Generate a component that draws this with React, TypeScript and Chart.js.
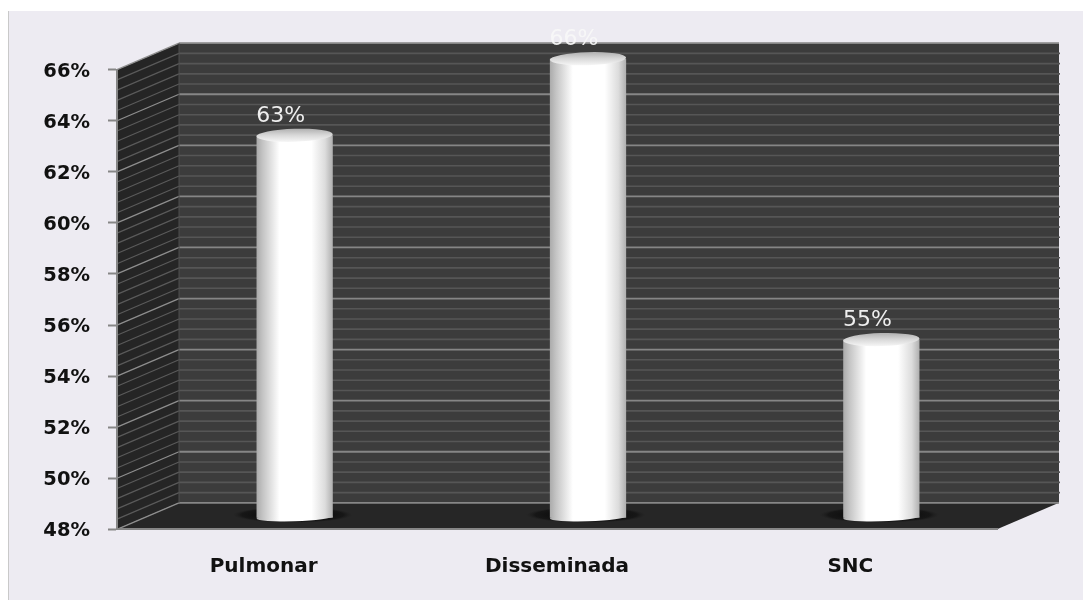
import React, { useEffect, useRef } from "react";
import { Chart, registerables } from "chart.js";

Chart.register(...registerables);

const categories = ["Pulmonar", "Disseminada", "SNC"];
const values = [63, 66, 55];
const axisMin = 48;
const axisMax = 66;
const majorStep = 2;
const minorStep = 0.4;

const WIDTH = 1083;
const HEIGHT = 600;
const depthX = 62;
const depthY = 26.5;
const barShiftX = 31;
const barShiftY = -11;

const gridValues = (): number[] => {
  const count = Math.round((axisMax - axisMin) / minorStep);
  return Array.from({ length: count + 1 }, (_, i) => axisMin + i * minorStep);
};

const isMajor = (v: number) => Math.abs((v - axisMin) / majorStep - Math.round((v - axisMin) / majorStep)) < 1e-6;

// Horizontal shading that makes a flat bar read as a cylinder.
const cylinderShade = (ctx: CanvasRenderingContext2D, x: number, half: number) => {
  const g = ctx.createLinearGradient(x - half, 0, x + half, 0);
  g.addColorStop(0, "#ababab");
  g.addColorStop(0.08, "#c4c4c4");
  g.addColorStop(0.3, "#ffffff");
  g.addColorStop(0.72, "#ffffff");
  g.addColorStop(0.9, "#dcdcdc");
  g.addColorStop(1, "#b0b0b0");
  return g;
};

// Side wall, back wall and floor of the 3D box, ruled from the value scale.
const boxPlugin = {
  id: "box",
  beforeDraw(chart: any) {
    const { ctx, chartArea: a, scales } = chart;
    const y = scales.y;
    const poly = (pts: number[][], fill: string) => {
      ctx.beginPath();
      pts.forEach(([px, py], i) => (i ? ctx.lineTo(px, py) : ctx.moveTo(px, py)));
      ctx.closePath();
      ctx.fillStyle = fill;
      ctx.fill();
    };
    ctx.save();
    poly(
      [
        [a.left + depthX, a.top - depthY],
        [a.right + depthX, a.top - depthY],
        [a.right + depthX, a.bottom - depthY],
        [a.left + depthX, a.bottom - depthY],
      ],
      "#3c3c3c",
    );
    poly(
      [
        [a.left, a.top],
        [a.left + depthX, a.top - depthY],
        [a.left + depthX, a.bottom - depthY],
        [a.left, a.bottom],
      ],
      "#252525",
    );
    poly(
      [
        [a.left, a.bottom],
        [a.left + depthX, a.bottom - depthY],
        [a.right + depthX, a.bottom - depthY],
        [a.right, a.bottom],
      ],
      "#262626",
    );
    for (const v of gridValues()) {
      const py = y.getPixelForValue(v);
      const major = isMajor(v);
      ctx.beginPath();
      ctx.moveTo(a.left, py);
      ctx.lineTo(a.left + depthX, py - depthY);
      ctx.strokeStyle = major ? "#8e8e8e" : "#5a5a5a";
      ctx.lineWidth = major ? 1.3 : 1.2;
      ctx.stroke();
      ctx.beginPath();
      ctx.moveTo(a.left + depthX, py - depthY);
      ctx.lineTo(a.right + depthX + (major ? 0 : 1), py - depthY);
      ctx.strokeStyle = major ? "#868686" : "#565656";
      ctx.lineWidth = major ? 1.8 : 1.6;
      ctx.stroke();
    }
    ctx.beginPath();
    ctx.moveTo(a.left + depthX, a.top - depthY);
    ctx.lineTo(a.left + depthX, a.bottom - depthY);
    ctx.strokeStyle = "#4f4f4f";
    ctx.lineWidth = 1;
    ctx.stroke();
    ctx.restore();
  },
};

// Moves the bars to mid-depth and turns them into cylinders with a shadow, base and cap.
const cylinderPlugin = {
  id: "cylinder",
  beforeDatasetDraw(chart: any) {
    const { ctx } = chart;
    ctx.save();
    ctx.translate(barShiftX, barShiftY);
    for (const bar of chart.getDatasetMeta(0).data) {
      const { x, base, width } = bar.getProps(["x", "base", "width"], true);
      ctx.save();
      ctx.translate(x - 2, base - 3);
      ctx.scale(1, 8 / 60);
      const shade = ctx.createRadialGradient(0, 0, 30, 0, 0, 60);
      shade.addColorStop(0, "rgba(12,12,12,0.95)");
      shade.addColorStop(0.7, "rgba(16,16,16,0.7)");
      shade.addColorStop(1, "rgba(30,30,30,0)");
      ctx.fillStyle = shade;
      ctx.beginPath();
      ctx.arc(0, 0, 60, 0, Math.PI * 2);
      ctx.fill();
      ctx.restore();

      ctx.fillStyle = cylinderShade(ctx, x, width / 2);
      ctx.beginPath();
      ctx.ellipse(x, base - 0.5, width / 2, 4, -0.03, 0, Math.PI * 2);
      ctx.fill();
    }
  },
  afterDatasetDraw(chart: any) {
    const { ctx } = chart;
    for (const bar of chart.getDatasetMeta(0).data) {
      const { x, y, width } = bar.getProps(["x", "y", "width"], true);
      const rim = ctx.createLinearGradient(0, y - 6, 0, y + 7);
      rim.addColorStop(0, "#b4b4b4");
      rim.addColorStop(0.45, "#d8d8d8");
      rim.addColorStop(1, "#f8f8f8");
      ctx.fillStyle = rim;
      ctx.beginPath();
      ctx.ellipse(x, y, width / 2, 6.5, -0.03, 0, Math.PI * 2);
      ctx.fill();
    }
    ctx.restore();
  },
  afterDatasetsDraw(chart: any) {
    const { ctx, scales } = chart;
    ctx.save();
    ctx.font = "22px 'DejaVu Sans'";
    ctx.textAlign = "center";
    ctx.textBaseline = "middle";
    ctx.fillStyle = "rgba(248,248,248,0.95)";
    values.forEach((v, i) => {
      ctx.fillText(`${v}%`, scales.x.getPixelForValue(i) + 17, scales.y.getPixelForValue(v) - 30);
    });
    ctx.restore();
  },
};

export default function App() {
  const ref = useRef<HTMLCanvasElement>(null);

  useEffect(() => {
    const chart = new Chart(ref.current as HTMLCanvasElement, {
      type: "bar",
      data: {
        labels: categories,
        datasets: [
          {
            data: values,
            base: axisMin,
            clip: false,
            barPercentage: 0.26,
            categoryPercentage: 1,
            backgroundColor: (c: any) => {
              const x = c.dataIndex === undefined ? NaN : c.chart.scales.x?.getPixelForValue(c.dataIndex);
              return Number.isFinite(x) ? cylinderShade(c.chart.ctx, x, 38) : "#ffffff";
            },
            borderWidth: 0,
          } as any,
        ],
      },
      options: {
        animation: false,
        responsive: false,
        layout: { padding: { left: 0, right: 86, top: 69.7, bottom: 0 } },
        plugins: { legend: { display: false }, tooltip: { enabled: false } },
        scales: {
          x: {
            afterFit: (s: any) => {
              s.height = 70.7;
            },
            grid: { drawOnChartArea: false, drawTicks: false },
            border: { color: "#868686", width: 2 },
            ticks: {
              padding: 25,
              color: "#111111",
              maxRotation: 0,
              font: { family: "'DejaVu Sans'", size: 20, weight: "bold" },
            },
          },
          y: {
            min: axisMin,
            max: axisMax,
            afterFit: (s: any) => {
              s.width = 117;
            },
            grid: { drawOnChartArea: false, drawTicks: true, tickLength: 9, tickColor: "#868686", tickWidth: 2 },
            border: { color: "#868686", width: 2 },
            ticks: {
              stepSize: majorStep,
              padding: 18,
              color: "#111111",
              font: { family: "'DejaVu Sans'", size: 19.5, weight: "bold", lineHeight: "4px" },
              // The empty first line lowers each label a little against its tick.
              callback: (v: any) => ["", `${v}%`],
            },
          },
        },
      },
      plugins: [boxPlugin, cylinderPlugin],
    } as any);
    return () => chart.destroy();
  }, []);

  return (
    <div style={{ position: "absolute", left: 0, top: 0, width: WIDTH, height: HEIGHT, background: "#ffffff", overflow: "hidden" }}>
      <div
        style={{
          position: "absolute",
          left: 8,
          top: 11,
          right: 0,
          bottom: 0,
          background: "#edebf2",
          borderLeft: "1px solid #c9c9c9",
        }}
      />
      <canvas ref={ref} width={WIDTH} height={HEIGHT} style={{ position: "absolute", left: 0, top: 0, display: "block" }} />
    </div>
  );
}
